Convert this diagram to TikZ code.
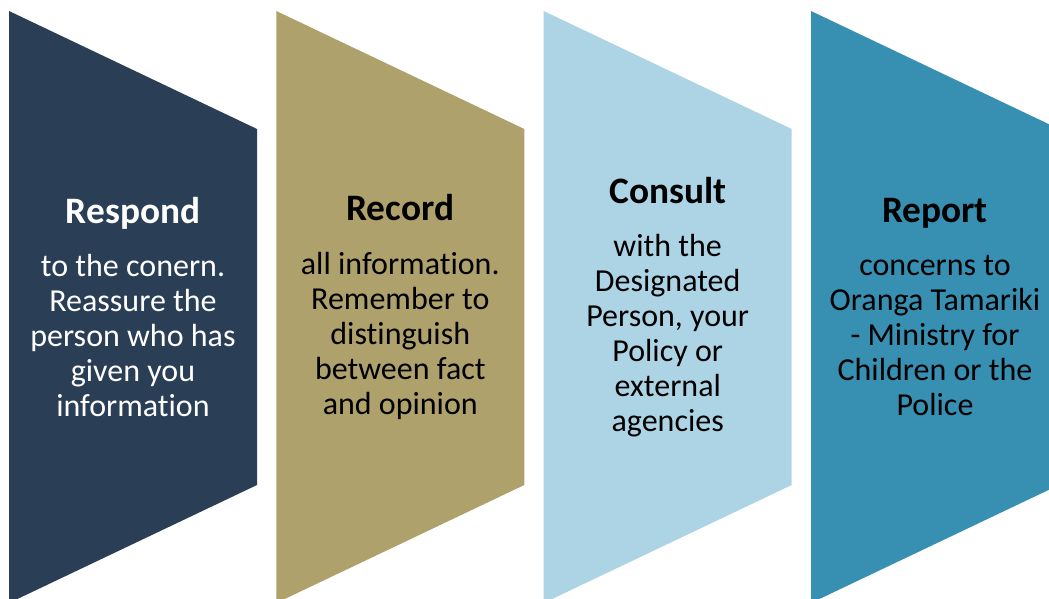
\documentclass[tikz,border=0pt]{standalone}
\usepackage{fontspec}
\setmainfont[Ligatures={NoCommon,NoRare}]{Carlito}
\definecolor{navyblue}{HTML}{2A3E56}
\definecolor{khaki}{HTML}{AFA16B}
\definecolor{paleblue}{HTML}{ADD4E4}
\definecolor{tealblue}{HTML}{378FB1}

\begin{document}
\begin{tikzpicture}[x=0.75pt,y=-0.75pt,
    chevron/.style={line width=0pt},
    stagetext/.style={align=center,inner sep=0pt,font=\fontsize{24}{26.25}\selectfont}]
    \useasboundingbox (0,0) rectangle (1049,599);
    \clip (0,0) rectangle (1049,599);
    % the four stages
    \fill[navyblue,chevron] (9,11) -- ++(248,118) -- ++(0,356) -- ++(-248,118) -- cycle;
    \fill[khaki,chevron] (276.3,11) -- ++(248,118) -- ++(0,356) -- ++(-248,118) -- cycle;
    \fill[paleblue,chevron] (543.7,11) -- ++(248,118) -- ++(0,356) -- ++(-248,118) -- cycle;
    \fill[tealblue,chevron] (811,11) -- ++(248,118) -- ++(0,356) -- ++(-248,118) -- cycle;
    % labels
    \node[stagetext,text=white] (respond) at (133,307)
        {{\fontsize{28}{32}\selectfont\bfseries Respond}\\[14pt]
         to the conern.\\Reassure the\\person who has\\given you\\information};
    \node[stagetext] (record) at (400.3,307)
        {{\fontsize{28}{32}\selectfont\bfseries Record}\\[14pt]
         all information.\\Remember to\\distinguish\\between fact\\and opinion};
    \node[stagetext] (consult) at (667.7,307)
        {{\fontsize{28}{32}\selectfont\bfseries Consult}\\[14pt]
         with the\\Designated\\Person, your\\Policy or\\external\\agencies};
    \node[stagetext] (report) at (935,307)
        {{\fontsize{28}{32}\selectfont\bfseries Report}\\[14pt]
         concerns to\\Oranga Tamariki\\- Ministry for\\Children or the\\Police};
\end{tikzpicture}
\end{document}
